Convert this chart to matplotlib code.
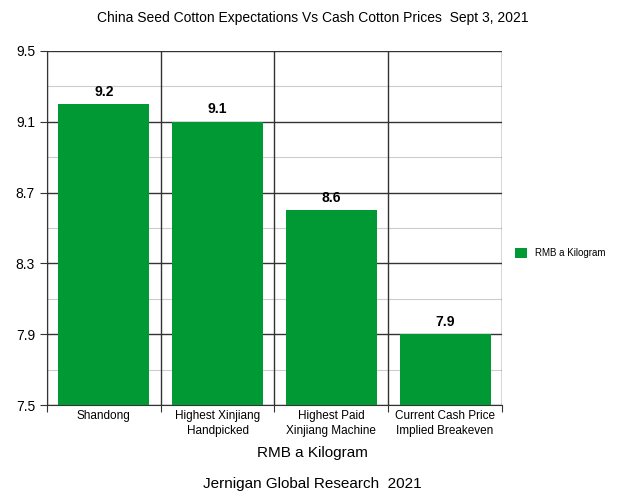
import matplotlib.pyplot as plt
import numpy as np

plt.rcParams['font.family'] = ['Liberation Sans', 'DejaVu Sans']

categories = ['Shandong', 'Highest Xinjiang\nHandpicked', 'Highest Paid\nXinjiang Machine',
              'Current Cash Price\nImplied Breakeven']
values = [9.2, 9.1, 8.6, 7.9]
yticks = [7.5, 7.9, 8.3, 8.7, 9.1, 9.5]

fig = plt.figure(figsize=(6.25, 4.93), dpi=100)
ax = fig.add_axes([0.075, 0.178, 0.728, 0.719])

x = np.arange(len(categories))
bars = ax.bar(x, values, width=0.8, color='#009933', label='RMB a Kilogram', zorder=3)
for xi, v in zip(x, values):
    ax.text(xi, v + 0.03, f'{v:.1f}', ha='center', va='bottom', fontsize=10, fontweight='bold')

ax.set_ylim(7.5, 9.5)
ax.set_xlim(-0.5, len(categories) - 0.5)
ax.set_yticks(yticks)
ax.set_yticklabels([f'{t:.1f}' for t in yticks], fontsize=10)
ax.set_yticks([t + 0.2 for t in yticks[:-1]], minor=True)
ax.yaxis.grid(True, which='major', color='#333333', linewidth=1, zorder=1)
ax.yaxis.grid(True, which='minor', color='#cccccc', linewidth=0.8, zorder=1)
ax.tick_params(axis='y', which='minor', length=0)
ax.tick_params(axis='y', which='major', length=5, color='#333333')

# category boundaries
bounds = np.arange(len(categories) + 1) - 0.5
for b in bounds:
    ax.axvline(b, color='#333333', linewidth=1, zorder=2)
ax.set_xticks(bounds)
ax.set_xticklabels([''] * len(bounds))
ax.tick_params(axis='x', length=5, color='#333333')
for xi, c in zip(x, categories):
    ax.text(xi, 7.475, c, ha='center', va='top', fontsize=8.5, linespacing=1.35)

for s in ['top', 'right']:
    ax.spines[s].set_visible(False)
ax.spines['left'].set_color('#333333')
ax.spines['bottom'].set_color('#333333')

fig.text(0.5, 0.963, 'China Seed Cotton Expectations Vs Cash Cotton Prices  Sept 3, 2021',
         ha='center', va='center', fontsize=10)
fig.text(0.5, 0.082, 'RMB a Kilogram', ha='center', va='center', fontsize=11)
fig.text(0.5, 0.004, 'Jernigan Global Research  2021', ha='center', va='bottom', fontsize=11)

ax.legend(loc='center left', bbox_to_anchor=(1.01, 0.43), frameon=False, fontsize=7,
          handlelength=1.2, handleheight=1.2)

fig.savefig('out.png', dpi=100)
